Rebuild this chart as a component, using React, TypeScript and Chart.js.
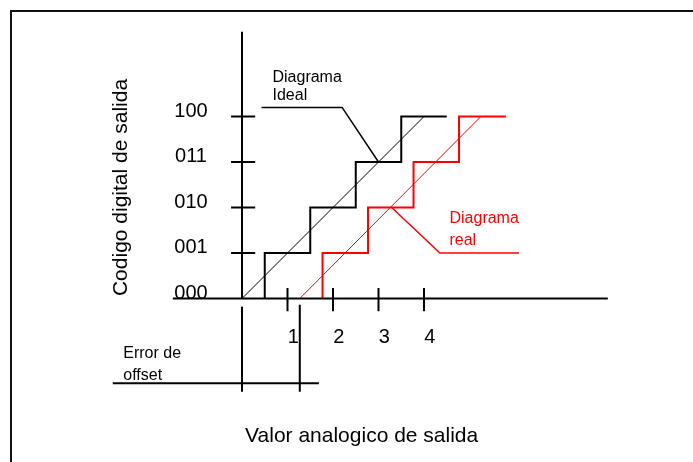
import { useEffect, useRef } from 'react';
import { Chart, registerables } from 'chart.js';

Chart.register(...registerables);

// ---- data (in axis units: 1 LSB per code step, 1 unit per analog step) ----
const codeValues = [0, 1, 2, 3, 4];
const codeLabels = ['000', '001', '010', '011', '100'];
const analogTickValues = [1, 2, 3, 4];
const analogTickLabels = ['1', '2', '3', '4'];
const idealTransitions = [0.5, 1.5, 2.5, 3.5];
const idealEnd = 4.5;
const realTransitions = [1.77, 2.77, 3.77, 4.77];
const realEnd = 5.8;
const idealLine = [[0, 0], [4, 4]];
const realLine = [[1.27, 0], [5.25, 4]];
const offsetError = 1.27;
const idealCallout = [[0.43, 4.2], [2.2, 4.2], [3, 3]];
const realCallout = [[3.29, 2], [4.35, 1], [6.09, 1]];
const idealLabel = ['Diagrama', 'Ideal'];
const realLabel = ['Diagrama', 'real'];
const offsetLabel = ['Error de', 'offset'];
const xTitle = 'Valor analogico de salida';
const yTitle = 'Codigo digital de salida';

const BLACK = '#000000';
const RED = '#ff0000';
const FONT = '"Liberation Sans", Arial, sans-serif';

function staircase(transitions: number[], end: number) {
  const pts: { x: number; y: number }[] = [];
  transitions.forEach((t, i) => {
    pts.push({ x: t, y: i });
    pts.push({ x: t, y: i + 1 });
  });
  pts.push({ x: end, y: transitions.length });
  return pts;
}

function seg(points: number[][], color: string, width: number) {
  return {
    data: points.map(([x, y]) => ({ x, y })),
    showLine: true,
    borderColor: color,
    backgroundColor: color,
    borderWidth: width,
    pointRadius: 0,
    tension: 0,
    fill: false,
  };
}

const textPlugin = {
  id: 'diagramTexts',
  beforeDraw(chart: any) {
    const { ctx, width, height } = chart;
    ctx.save();
    ctx.fillStyle = '#ffffff';
    ctx.fillRect(0, 0, width, height);
    ctx.fillStyle = '#111111';
    ctx.fillRect(10, 10, width, 2);
    ctx.fillRect(10, 10, 2, height);
    ctx.restore();
  },
  afterDatasetsDraw(chart: any) {
    const { ctx } = chart;
    const xs = chart.scales.x;
    const ys = chart.scales.y;
    const px = (v: number) => xs.getPixelForValue(v);
    const py = (v: number) => ys.getPixelForValue(v);
    ctx.save();
    ctx.textBaseline = 'alphabetic';

    // code tick labels
    ctx.fillStyle = BLACK;
    ctx.font = `20px ${FONT}`;
    ctx.textAlign = 'center';
    codeValues.forEach((v, i) => {
      ctx.fillText(codeLabels[i], px(-1.12), py(v));
    });
    // analog tick labels
    analogTickValues.forEach((v, i) => {
      ctx.fillText(analogTickLabels[i], px(v + 0.13), py(-0.98));
    });

    // annotations
    ctx.font = `16px ${FONT}`;
    ctx.textAlign = 'left';
    ctx.fillText(idealLabel[0], px(0.67), py(4.76));
    ctx.fillText(idealLabel[1], px(0.67), py(4.36));
    ctx.fillText(offsetLabel[0], px(-2.61), py(-1.31));
    ctx.fillText(offsetLabel[1], px(-2.61), py(-1.79));
    ctx.fillStyle = RED;
    ctx.fillText(realLabel[0], px(4.56), py(1.67));
    ctx.fillText(realLabel[1], px(4.56), py(1.18));

    // axis titles
    ctx.fillStyle = BLACK;
    ctx.font = `21px ${FONT}`;
    ctx.textAlign = 'center';
    ctx.fillText(xTitle, px(2.63), py(-3.15));
    ctx.save();
    ctx.translate(px(-2.53), py(2.44));
    ctx.rotate(-Math.PI / 2);
    ctx.fillText(yTitle, 0, 0);
    ctx.restore();

    ctx.restore();
  },
};

export default function App() {
  const ref = useRef<HTMLCanvasElement>(null);
  useEffect(() => {
    if (!ref.current) return;
    const datasets: any[] = [];
    // axes
    datasets.push(seg([[-1.52, 0], [8.04, 0]], BLACK, 2));
    datasets.push(seg([[0, 0], [0, 5.86]], BLACK, 2));
    datasets.push(seg([[0, -0.18], [0, -2.05]], BLACK, 2));
    codeValues.slice(1).forEach((v) => datasets.push(seg([[-0.24, v], [0.29, v]], BLACK, 2)));
    analogTickValues.forEach((v) => datasets.push(seg([[v, 0.23], [v, -0.28]], BLACK, 2)));
    // offset error marker
    datasets.push(seg([[offsetError, -0.14], [offsetError, -2.05]], BLACK, 2));
    datasets.push(seg([[-2.84, -1.86], [1.69, -1.86]], BLACK, 2));
    // transfer curves
    datasets.push(seg(idealLine, BLACK, 1));
    datasets.push(seg(realLine, RED, 1));
    datasets.push({ ...seg([], BLACK, 2), data: staircase(idealTransitions, idealEnd) });
    datasets.push({ ...seg([], RED, 2), data: staircase(realTransitions, realEnd) });
    // callouts
    datasets.push(seg(idealCallout, BLACK, 1.5));
    datasets.push(seg(realCallout, RED, 1.5));

    const W = 693, H = 462;
    const unit = 45.5, ox = 242, oy = 298.5;
    const chart = new Chart(ref.current, {
      type: 'scatter',
      data: { datasets },
      options: {
        animation: false,
        responsive: false,
        maintainAspectRatio: false,
        layout: { padding: 0 },
        plugins: { legend: { display: false }, tooltip: { enabled: false } },
        events: [],
        scales: {
          x: { type: 'linear', display: false, min: -ox / unit, max: (W - ox) / unit },
          y: { type: 'linear', display: false, min: -(H - oy) / unit, max: oy / unit },
        },
      },
      plugins: [textPlugin],
    });
    return () => chart.destroy();
  }, []);
  return (
    <div style={{ position: 'absolute', left: 0, top: 0, width: 693, height: 462, background: '#fff' }}>
      <canvas ref={ref} width={693} height={462} style={{ display: 'block', width: 693, height: 462 }} />
    </div>
  );
}
